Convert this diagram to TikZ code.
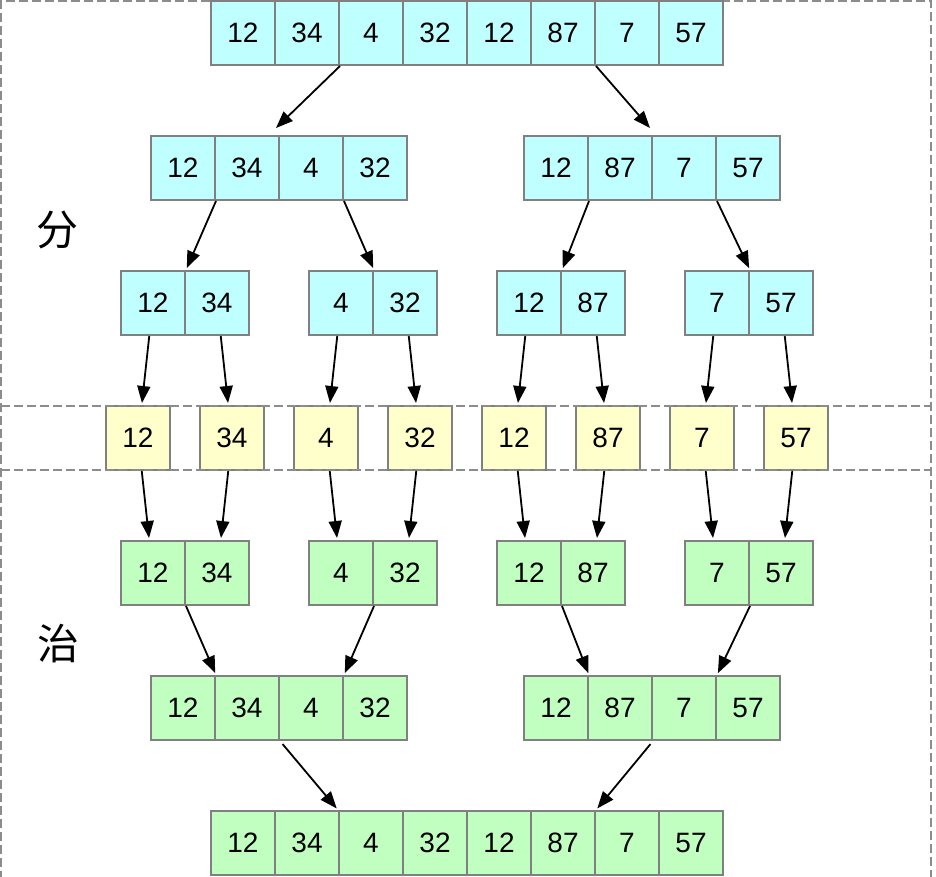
\documentclass[tikz,border=0pt]{standalone}
\usepackage{fontspec}
\setmainfont{Liberation Sans}
\newfontfamily\cjkfont{Noto Sans CJK SC}
\usetikzlibrary{arrows.meta,calc}
\definecolor{cyanfill}{RGB}{192,255,255}
\definecolor{yellowfill}{RGB}{255,255,204}
\definecolor{greenfill}{RGB}{192,255,192}
\definecolor{cellgray}{RGB}{128,128,128}
\definecolor{framegray}{RGB}{140,140,140}
\newcommand\vlink[2]{\draw[arr] let \p1=(#1.south), \p2=(#2.north) in ({\x1+0.25*(\x2-\x1)},\y1) -- ({\x1+0.75*(\x2-\x1)},\y2);}
\begin{document}
\begin{tikzpicture}[x=1pt,y=-1pt,
  cell/.style={draw=cellgray,line width=2pt,minimum width=64pt,minimum height=64pt,inner sep=0pt,font=\fontsize{28}{30}\selectfont},
  split/.style={cell,fill=cyanfill},
  leaf/.style={cell,fill=yellowfill},
  merged/.style={cell,fill=greenfill},
  arr/.style={-{Triangle[length=17pt,width=13pt]},line width=1.8pt,shorten >=2pt},
  frame/.style={draw=framegray,line width=2pt,dash pattern=on 9pt off 4pt},
  label/.style={font=\cjkfont\fontsize{42}{44}\selectfont,inner sep=0pt}]
\useasboundingbox (0,0) rectangle (936,876);
% outer dashed frame
\path[frame] (1,880) -- (1,1) -- (931,1) -- (931,880);
% row 1
\foreach \v/\x [count=\i] in {12/243,34/307,4/371,32/435,12/499,87/563,7/627,57/691}
  \node[split] (a\i) at (\x,33) {\v};
% row 2
\foreach \v/\x [count=\i] in {12/183,34/247,4/311,32/375,12/556,87/620,7/684,57/748}
  \node[split] (b\i) at (\x,168) {\v};
% row 3
\foreach \v/\x [count=\i] in {12/153,34/217,4/341,32/405,12/529,87/593,7/717,57/781}
  \node[split] (c\i) at (\x,303) {\v};
% row 4
\foreach \v/\x [count=\i] in {12/138,34/232,4/326,32/420,12/514,87/608,7/702,57/796}
  \node[leaf] (d\i) at (\x,438) {\v};
% row 5
\foreach \v/\x [count=\i] in {12/153,34/217,4/341,32/405,12/529,87/593,7/717,57/781}
  \node[merged] (e\i) at (\x,573) {\v};
% row 6
\foreach \v/\x [count=\i] in {12/183,34/247,4/311,32/375,12/556,87/620,7/684,57/748}
  \node[merged] (f\i) at (\x,708) {\v};
% row 7
\foreach \v/\x [count=\i] in {12/243,34/307,4/371,32/435,12/499,87/563,7/627,57/691}
  \node[merged] (g\i) at (\x,843) {\v};
% band lines
\path[frame] (1,406) -- (931,406);
\path[frame] (1,470) -- (931,470);
% labels
\node[label] (fen) at (57,230) {分};
\node[label] (zhi) at (58,644) {治};
% arrows: divide
\draw[arr,shorten >=0pt] (a2.south east) -- ($(b3.north west)+(-2,-7)$);
\draw[arr,shorten >=0pt] (a6.south east) -- ($(b7.north west)+(-1,-7)$);
\draw[arr] (b1.south east) -- (c1.north east);
\draw[arr] (b3.south east) -- (c3.north east);
\draw[arr] (b5.south east) -- (c5.north east);
\draw[arr] (b7.south east) -- (c7.north east);
\foreach \i in {1,...,8} {\vlink{c\i}{d\i}\vlink{d\i}{e\i}}
% arrows: conquer
\draw[arr] (e1.south east) -- (f1.north east);
\draw[arr] (e3.south east) -- (f3.north east);
\draw[arr] (e5.south east) -- (f5.north east);
\draw[arr] (e7.south east) -- (f7.north east);
\draw[arr,shorten <=4pt] (f2.south east) -- (g3.north west);
\draw[arr,shorten <=4pt] (f6.south east) -- (g6.north east);
\end{tikzpicture}
\end{document}
